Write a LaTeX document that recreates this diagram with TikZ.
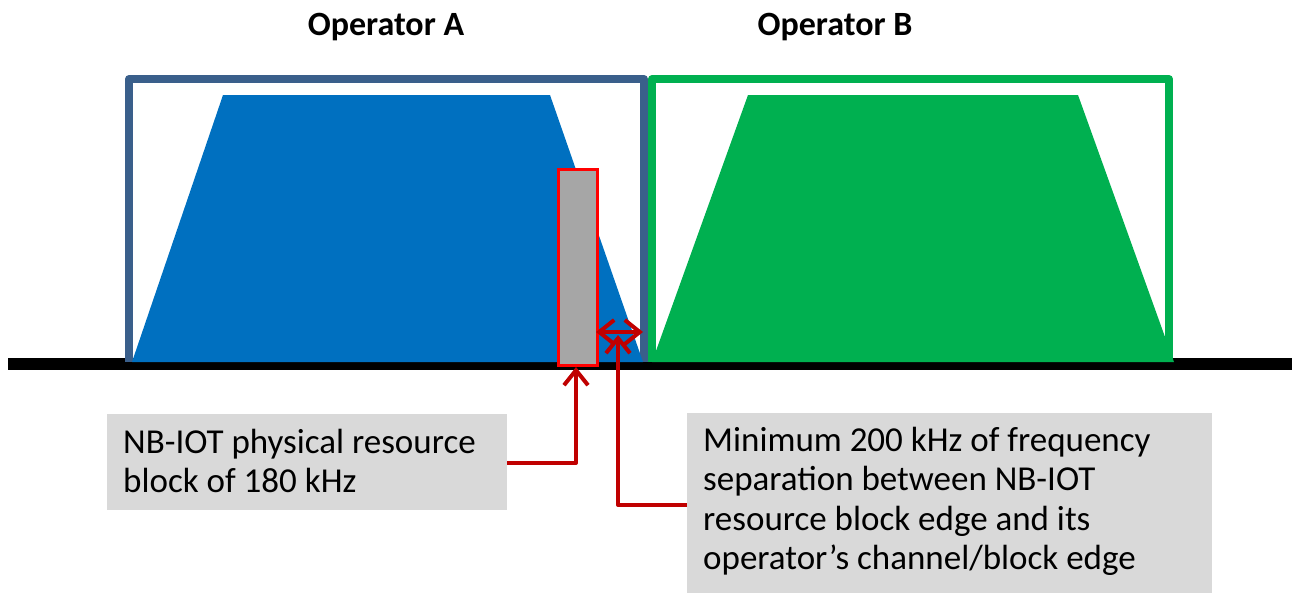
\documentclass[tikz,border=0pt]{standalone}
\usepackage{fontspec}
\setmainfont{Carlito}
\usetikzlibrary{arrows.meta}
\definecolor{opAfill}{HTML}{0070C0}
\definecolor{opAline}{HTML}{3A5F8B}
\definecolor{opB}{HTML}{00B050}
\definecolor{nbred}{HTML}{FF0000}
\definecolor{darkred}{HTML}{C00000}
\definecolor{nbgray}{HTML}{A6A6A6}
\definecolor{lightgray}{HTML}{D9D9D9}
\begin{document}
\begin{tikzpicture}[x=1pt,y=-1pt,
  oplabel/.style={font=\fontsize{34}{40}\selectfont\bfseries, inner sep=0pt, anchor=base},
  chbox/.style={line width=8pt, line join=round},
  graybox/.style={fill=lightgray, draw=none, inner sep=0pt, anchor=north west},
  txt/.style={font=\fontsize{35}{39.3}\selectfont, align=left, inner sep=0pt, anchor=north west},
  conn/.style={draw=darkred, line width=4pt, line join=round},
  chev/.style={-{Straight Barb[length=15pt,width=24pt]}},
  dchev/.style={{Straight Barb[length=15pt,width=24pt]}-{Straight Barb[length=15pt,width=24pt]}}
]
\useasboundingbox (0,0) rectangle (1293,592);

% labels
\node[oplabel] (labA) at (386,35) {Operator A};
\node[oplabel] (labB) at (835,35) {Operator B};

% baseline
\fill[black] (8,358) rectangle (1292,370);

% channel boxes
\draw[chbox, draw=opAline] (129,362) -- (129,79) -- (644,79) -- (644,362);
\draw[chbox, draw=opB] (652,362) -- (652,79) -- (1169,79) -- (1169,362);

% spectra
\fill[opAfill] (132,362) -- (223,95) -- (550,95) -- (643,362) -- cycle;
\fill[opB] (652,362) -- (748,95) -- (1078,95) -- (1174,362) -- cycle;

% NB-IoT resource block
\node[draw=nbred, fill=nbgray, line width=3pt, minimum width=39pt, minimum height=196pt, inner sep=0pt, anchor=north west] (nb) at (556.5,167.5) {};

% text boxes
\node[graybox, minimum width=400pt, minimum height=96pt] (lbox) at (107,414) {};
\node[txt] (ltxt) at (123,429) {NB-IOT physical resource\\block of 180 kHz};
\node[graybox, minimum width=525pt, minimum height=185pt] (rbox) at (687,413) {};
\node[txt] (rtxt) at (703,427) {Minimum 200 kHz of frequency\\separation between NB-IOT\\resource block edge and its\\operator’s channel/block edge};

% separation arrow
\coordinate (sepL) at (596,332);
\coordinate (sepR) at (643,332);
\draw[conn, dchev] (sepL) -- (sepR);

% connectors
\coordinate (lc) at (576,463);
\coordinate (nbtip) at (576,367);
\draw[conn, chev] (lbox.east |- lc) -- (lc) -- (nbtip);
\coordinate (rc) at (618,505);
\coordinate (septip) at (618,335);
\draw[conn, chev] (rbox.west |- rc) -- (rc) -- (septip);
\end{tikzpicture}
\end{document}
